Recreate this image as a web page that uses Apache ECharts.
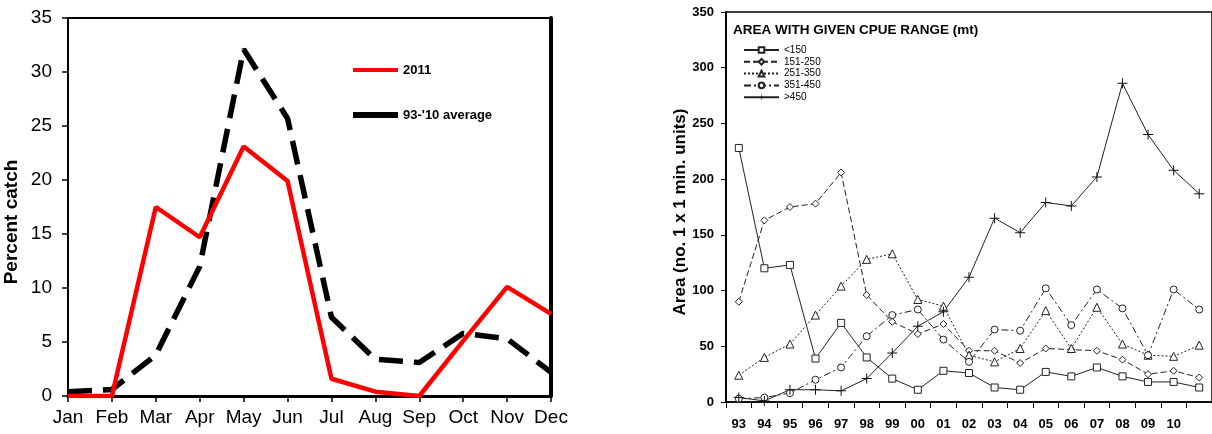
<!DOCTYPE html>
<html>
<head>
<meta charset="utf-8">
<script src="https://cdn.jsdelivr.net/npm/echarts@6/dist/echarts.min.js"></script>
<style>html,body{margin:0;padding:0;background:#fff;}#c{width:1212px;height:434px;}</style>
</head>
<body>
<div id="c"></div>
<script>
// ---- Left chart data ----
const months = ['Jan','Feb','Mar','Apr','May','Jun','Jul','Aug','Sep','Oct','Nov','Dec'];
const catch2011 = [0, 0, 17.5, 14.7, 23.1, 19.9, 1.6, 0.4, 0, 5.1, 10.1, 7.6];
const catchAvg = [0.4, 0.6, 3.8, 12, 32.1, 25.7, 7.3, 3.4, 3.1, 5.8, 5.3, 2.2];
const leftYTicks = {min: 0, max: 35, step: 5};

// ---- Right chart data ----
const years = ['93','94','95','96','97','98','99','00','01','02','03','04','05','06','07','08','09','10','11'];
const yearLabels = ['93','94','95','96','97','98','99','00','01','02','03','04','05','06','07','08','09','10',''];
const lt150 =   [228, 120, 123, 39, 71, 40, 21, 11, 28, 26, 13, 11, 27, 23, 31, 23, 18, 18, 13];
const r151_250 = [90, 163, 175, 178, 206, 96, 72, 61, 70, 46, 46, 35, 48, 47, 46, 38, 25, 28, 22];
const r251_350 = [24, 40, 52, 78, 104, 128, 133, 92, 86, 42, 36, 48, 82, 48, 85, 52, 42, 41, 51];
const r351_450 = [3, 4, 8, 20, 31, 59, 78, 83, 56, 36, 65, 64, 102, 69, 101, 84, 42, 101, 83];
const gt450 =   [4, 1, 11, 11, 10, 21, 44, 68, 81, 112, 165, 152, 179, 176, 202, 286, 240, 208, 187];
const rightYTicks = {min: 0, max: 350, step: 50};

const FONT = "'Liberation Sans', Arial, sans-serif";
const plusPath = 'path://M4.5,0H5.5V4.5H10V5.5H5.5V10H4.5V5.5H0V4.5H4.5Z';

const chart = echarts.init(document.getElementById('c'), null, {renderer: 'canvas'});

const rightSeriesDefs = [
  {name: '<150', data: lt150, symbol: 'rect', size: 7, type: 'solid', filled: false},
  {name: '151-250', data: r151_250, symbol: 'diamond', size: 7, type: [6, 3], filled: false},
  {name: '251-350', data: r251_350, symbol: 'triangle', size: 8, type: [2, 2], filled: false},
  {name: '351-450', data: r351_450, symbol: 'circle', size: 7, type: [7, 3, 2, 3], filled: false},
  {name: '>450', data: gt450, symbol: plusPath, size: 10, type: 'solid', filled: true}
];

const option = {
  backgroundColor: '#fff',
  animation: false,
  textStyle: {fontFamily: FONT},
  title: [{
    text: 'AREA WITH GIVEN CPUE RANGE (mt)',
    left: 733, top: 23, padding: 0,
    textStyle: {fontFamily: FONT, fontWeight: 'bold', fontSize: 13.5, color: '#000'}
  }],
  grid: [
    {left: 68, top: 18, right: 661, bottom: 38, show: true, borderColor: '#000', borderWidth: 2, backgroundColor: 'transparent'},
    {left: 726, top: 12, width: 490, bottom: 32, show: true, borderColor: '#000', borderWidth: 1.5, backgroundColor: 'transparent'}
  ],
  legend: [
    {
      orient: 'vertical', left: 353, top: 62, padding: 0, itemWidth: 45, itemHeight: 16, itemGap: 29,
      textStyle: {fontFamily: FONT, fontWeight: 'bold', fontSize: 13, color: '#000', lineHeight: 16},
      data: [
        {name: '2011', icon: 'path://M0,6H45V10H0Z', itemStyle: {color: '#ff0000'}},
        {name: "93-'10 average", icon: 'path://M0,5.5H38V10.5H0Z', itemStyle: {color: '#000'}}
      ]
    },
    {
      orient: 'vertical', left: 743, top: 45, padding: 0, itemWidth: 35, itemHeight: 7, itemGap: 1.8,
      textStyle: {fontFamily: FONT, fontSize: 10, color: '#000', lineHeight: 10},
      data: rightSeriesDefs.map(d => d.name)
    }
  ],
  xAxis: [
    {
      gridIndex: 0, type: 'category', data: months, boundaryGap: false,
      axisLine: {lineStyle: {color: '#000', width: 3}},
      axisTick: {show: true, length: 6, lineStyle: {color: '#000', width: 1.5}},
      axisLabel: {color: '#000', fontSize: 19, margin: 12, interval: 0, fontFamily: FONT},
      splitLine: {show: false}
    },
    {
      gridIndex: 1, type: 'category', data: years, boundaryGap: true,
      axisLine: {lineStyle: {color: '#000', width: 1.5}},
      axisTick: {show: true, length: 6, lineStyle: {color: '#000', width: 1}},
      axisLabel: {color: '#000', fontSize: 13, fontWeight: 'bold', margin: 16, interval: 0, fontFamily: FONT,
        formatter: (v, i) => yearLabels[i]},
      splitLine: {show: false}
    }
  ],
  yAxis: [
    {
      gridIndex: 0, type: 'value', min: leftYTicks.min, max: leftYTicks.max, interval: leftYTicks.step,
      axisLine: {show: true, lineStyle: {color: '#000', width: 2}},
      axisTick: {show: true, length: 6, lineStyle: {color: '#000', width: 1.5}},
      axisLabel: {color: '#000', fontSize: 19, margin: 16, fontFamily: FONT},
      splitLine: {show: false},
      name: 'Percent catch', nameLocation: 'middle', nameGap: 47,
      nameTextStyle: {color: '#000', fontSize: 19, fontWeight: 'bold', fontFamily: FONT, padding: [0, 30, 0, 0]}
    },
    {
      gridIndex: 0, type: 'value', position: 'right', min: leftYTicks.min, max: leftYTicks.max, interval: leftYTicks.step,
      axisLine: {show: true, lineStyle: {color: '#000', width: 4}},
      axisTick: {show: false}, axisLabel: {show: false}, splitLine: {show: false}
    },
    {
      gridIndex: 1, type: 'value', min: rightYTicks.min, max: rightYTicks.max, interval: rightYTicks.step,
      axisLine: {show: true, lineStyle: {color: '#000', width: 2}},
      axisTick: {show: true, length: 5, lineStyle: {color: '#000', width: 1}},
      axisLabel: {color: '#000', fontSize: 13, fontWeight: 'bold', margin: 12, fontFamily: FONT},
      splitLine: {show: false},
      name: 'Area (no. 1 x 1 min. units)', nameLocation: 'middle', nameGap: 36,
      nameTextStyle: {color: '#000', fontSize: 17, fontWeight: 'bold', fontFamily: FONT, padding: [0, 10, 0, 0]}
    }
  ],
  series: [
    {
      name: '2011', type: 'line', xAxisIndex: 0, yAxisIndex: 0, data: catch2011,
      symbol: 'none', lineStyle: {color: '#ff0000', width: 4.5}, itemStyle: {color: '#ff0000'}, z: 3
    },
    {
      name: "93-'10 average", type: 'line', xAxisIndex: 0, yAxisIndex: 0, data: catchAvg,
      symbol: 'none', lineStyle: {color: '#000', width: 5.5, type: [24, 11]}, itemStyle: {color: '#000'}, z: 2
    }
  ].concat(rightSeriesDefs.map(d => ({
    name: d.name, type: 'line', xAxisIndex: 1, yAxisIndex: 2, data: d.data,
    symbol: d.symbol, symbolSize: d.size, showAllSymbol: true,
    lineStyle: {color: '#222', width: 1, type: d.type},
    itemStyle: d.filled
      ? {color: '#111', borderWidth: 0}
      : {color: '#fff', borderColor: '#222', borderWidth: 1}
  })))
};

chart.setOption(option);
</script>
</body>
</html>
